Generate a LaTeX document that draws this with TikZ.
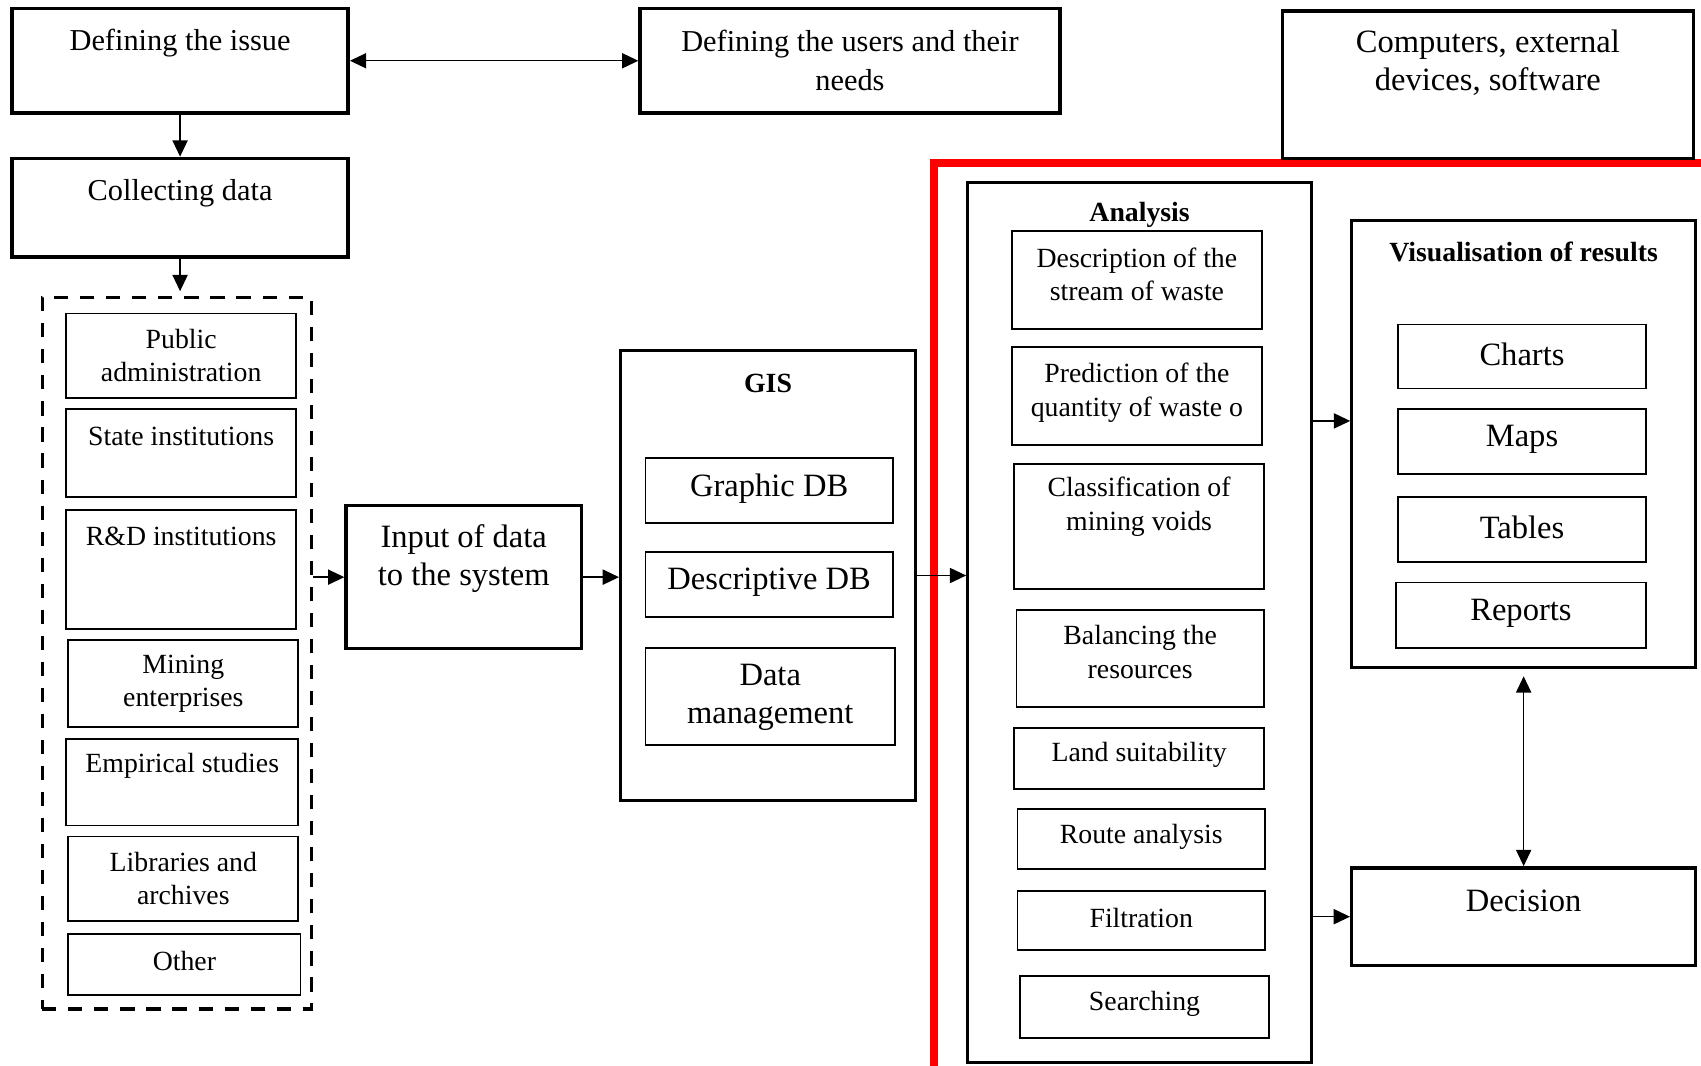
\documentclass[tikz,border=0pt]{standalone}
\usepackage{fontspec}
\setmainfont{Liberation Serif}
\usetikzlibrary{arrows.meta,calc}
\tikzset{
 thickbox/.style={draw, line width=1.6pt, inner sep=0},
 midbox/.style={draw, line width=1.4pt, inner sep=0},
 thinbox/.style={draw, line width=0.8pt, inner sep=0},
 fa/.style={font=\fontsize{12.8}{15.3}\selectfont},
 fb/.style={font=\fontsize{14}{18}\selectfont},
 fc/.style={font=\fontsize{15}{17.5}\selectfont},
 fbold/.style={font=\fontsize{12.8}{15.3}\selectfont\bfseries},
 txt/.style={inner sep=0, align=center},
 arr/.style={line width=0.6pt, -{Triangle[length=7.5pt,width=7pt]}},
 arrb/.style={line width=0.6pt, {Triangle[length=7.5pt,width=7pt]}-{Triangle[length=7.5pt,width=7pt]}},
}
\newcommand\bx[9]{%
 \node[#1, minimum width={(#6-#4)/2}, minimum height={(#7-#5)/2}] (#3) at ({(#4+#6)/2},{(#5+#7)/2}) {};
 \node[txt,#2] (#3-t) at ({(#4+#6)/2},#8) {#9};}
\begin{document}
\begin{tikzpicture}[x=0.5pt,y=-0.5pt]
\useasboundingbox (0,0) rectangle (1568,982);
\clip (0,0) rectangle (1568,982);
% red frame
\draw[red, line width=3.5pt] (861,1000) -- (861,150) -- (1600,150);
% top row
\bx{thickbox}{fb}{issue}{11}{8}{321}{104}{40}{Defining the issue}
\bx{thickbox}{fb}{users}{590}{8}{977}{104}{56}{Defining the users and their\\needs}
\bx{thickbox}{fc}{comp}{1182}{10}{1561}{146}{58}{Computers, external\\devices, software}
\bx{thickbox}{fb}{coll}{11}{146}{321}{237}{178}{Collecting data}
% sources
\node[draw, line width=1.6pt, dash pattern=on 6.5pt off 5.5pt, minimum width={(287-39)/2}, minimum height={(930-274)/2}, inner sep=0] (src) at ({(39+287)/2},{(274+930)/2}) {};
\bx{thinbox}{fa}{pub}{61}{289}{273}{367}{328}{Public\\administration}
\bx{thinbox}{fa}{state}{61}{377}{273}{458}{402}{State institutions}
\bx{thinbox}{fa}{rd}{61}{470}{273}{580}{494}{R\&D institutions}
\bx{thinbox}{fa}{mine}{63}{590}{275}{670}{630}{Mining\\enterprises}
\bx{thinbox}{fa}{emp}{61}{681}{275}{761}{706}{Empirical studies}
\bx{thinbox}{fa}{lib}{63}{771}{275}{849}{810}{Libraries and\\archives}
\bx{thinbox}{fa}{oth}{63}{861}{277}{917}{886}{Other}
% input
\bx{thickbox}{fc}{inp}{319}{466}{536}{598}{515}{Input of data\\to the system}
% GIS
\bx{midbox}{fbold}{gis}{572}{323}{844}{738}{353}{GIS}
\bx{thinbox}{fc}{gdb}{595}{422}{823}{482}{450}{Graphic DB}
\bx{thinbox}{fc}{ddb}{595}{509}{823}{569}{537}{Descriptive DB}
\bx{thinbox}{fc}{dm}{595}{597}{825}{687}{643}{Data\\management}
% Analysis
\bx{midbox}{fbold}{ana}{892}{168}{1209}{979}{198}{Analysis}
\bx{thinbox}{fa}{desc}{933}{213}{1163}{303}{253}{Description of the\\stream of waste}
\bx{thinbox}{fa}{pred}{933}{320}{1163}{410}{362}{Prediction of the\\quantity of waste o}
\bx{thinbox}{fa}{cls}{935}{428}{1165}{543}{467}{Classification of\\mining voids}
\bx{thinbox}{fa}{bal}{937}{562}{1165}{652}{601}{Balancing the\\resources}
\bx{thinbox}{fa}{land}{935}{671}{1165}{727}{696}{Land suitability}
\bx{thinbox}{fa}{route}{938}{746}{1166}{801}{771}{Route analysis}
\bx{thinbox}{fa}{filt}{938}{821}{1166}{876}{846}{Filtration}
\bx{thinbox}{fa}{srch}{940}{900}{1170}{957}{925}{Searching}
% Visualisation
\bx{midbox}{fbold}{vis}{1246}{203}{1563}{615}{232}{Visualisation of results}
\bx{thinbox}{fc}{chr}{1289}{299}{1517}{358}{327}{Charts}
\bx{thinbox}{fc}{maps}{1289}{377}{1517}{437}{405}{Maps}
\bx{thinbox}{fc}{tab}{1289}{458}{1517}{518}{486}{Tables}
\bx{thinbox}{fc}{rep}{1287}{537}{1517}{597}{565}{Reports}
% Decision
\bx{thickbox}{fc}{dec}{1246}{800}{1563}{890}{830}{Decision}
% connectors
\coordinate (yv) at (0,388);
\draw[arrb] (issue.east) -- (users.west);
\draw[arr] (issue.south) -- (issue.south |- coll.north);
\draw[arr] (coll.south) -- ([yshift=2pt]coll.south |- src.north);
\draw[arr] (inp.west -| src.east) -- (inp.west);
\draw[arr] (inp.east) -- (inp.east -| gis.west);
\draw[arr] (gis.east) -- (gis.east -| ana.west);
\draw[arr] (ana.east |- yv) -- (vis.west |- yv);
\draw[arr] (ana.east |- dec.west) -- (dec.west);
\draw[arrb, shorten <=3.5pt] (vis.south) -- (dec.north);
\end{tikzpicture}
\end{document}
